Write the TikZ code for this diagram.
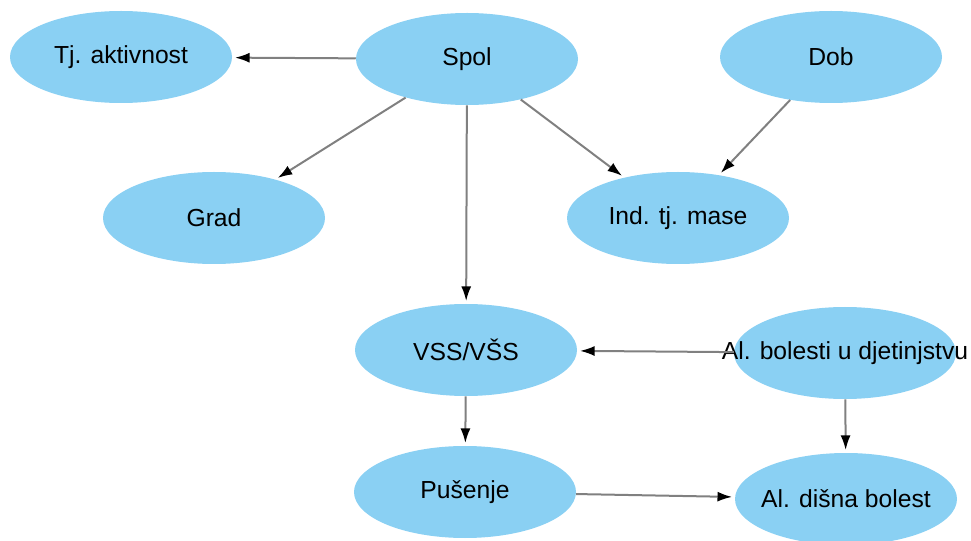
\documentclass[tikz,border=0pt]{standalone}
\usepackage{fontspec}
\setmainfont{Liberation Sans}
\usetikzlibrary{shapes.geometric,arrows.meta}

\definecolor{varblue}{RGB}{138,208,243}
\definecolor{edgegray}{RGB}{128,128,128}
\newcommand{\vn}[1]{\makebox[0pt]{#1}}

\begin{document}
\begin{tikzpicture}[x=0.75pt, y=-0.75pt,
    var/.style={ellipse, fill=varblue, minimum width=166.5pt, minimum height=69pt, inner sep=0pt, font=\fontsize{18.5}{22}\selectfont},
    arr/.style={draw=edgegray, line width=1.5pt, shorten >=2pt, -{Latex[black, length=11pt, width=7.5pt]}}]
    \useasboundingbox (0,0) rectangle (971,541);
    \node[var] (tj) at (121,57) {\vn{Tj. aktivnost}};
    \node[var] (spol) at (467,59) {\vn{Spol}};
    \node[var] (dob) at (831,57) {\vn{Dob}};
    \node[var] (grad) at (214,218) {\vn{Grad}};
    \node[var] (itm) at (678,218) {\vn{Ind. tj. mase}};
    \node[var] (vss) at (466,350) {\vn{VSS/VŠS}};
    \node[var] (albol) at (845,353) {\vn{Al. bolesti u djetinjstvu}};
    \node[var] (pus) at (465,492) {\vn{Pušenje}};
    \node[var] (aldis) at (846,499) {\vn{Al. dišna bolest}};
    \draw[arr] (spol) edge (tj);
    \draw[arr] (spol) edge (grad);
    \draw[arr] (spol) edge (vss);
    \draw[arr] (spol) edge (itm);
    \draw[arr] (dob) edge (itm);
    \draw[arr] (albol) edge (vss);
    \draw[arr] (vss) edge (pus);
    \draw[arr] (albol) edge (aldis);
    \draw[arr] (pus) edge (aldis);
\end{tikzpicture}
\end{document}
